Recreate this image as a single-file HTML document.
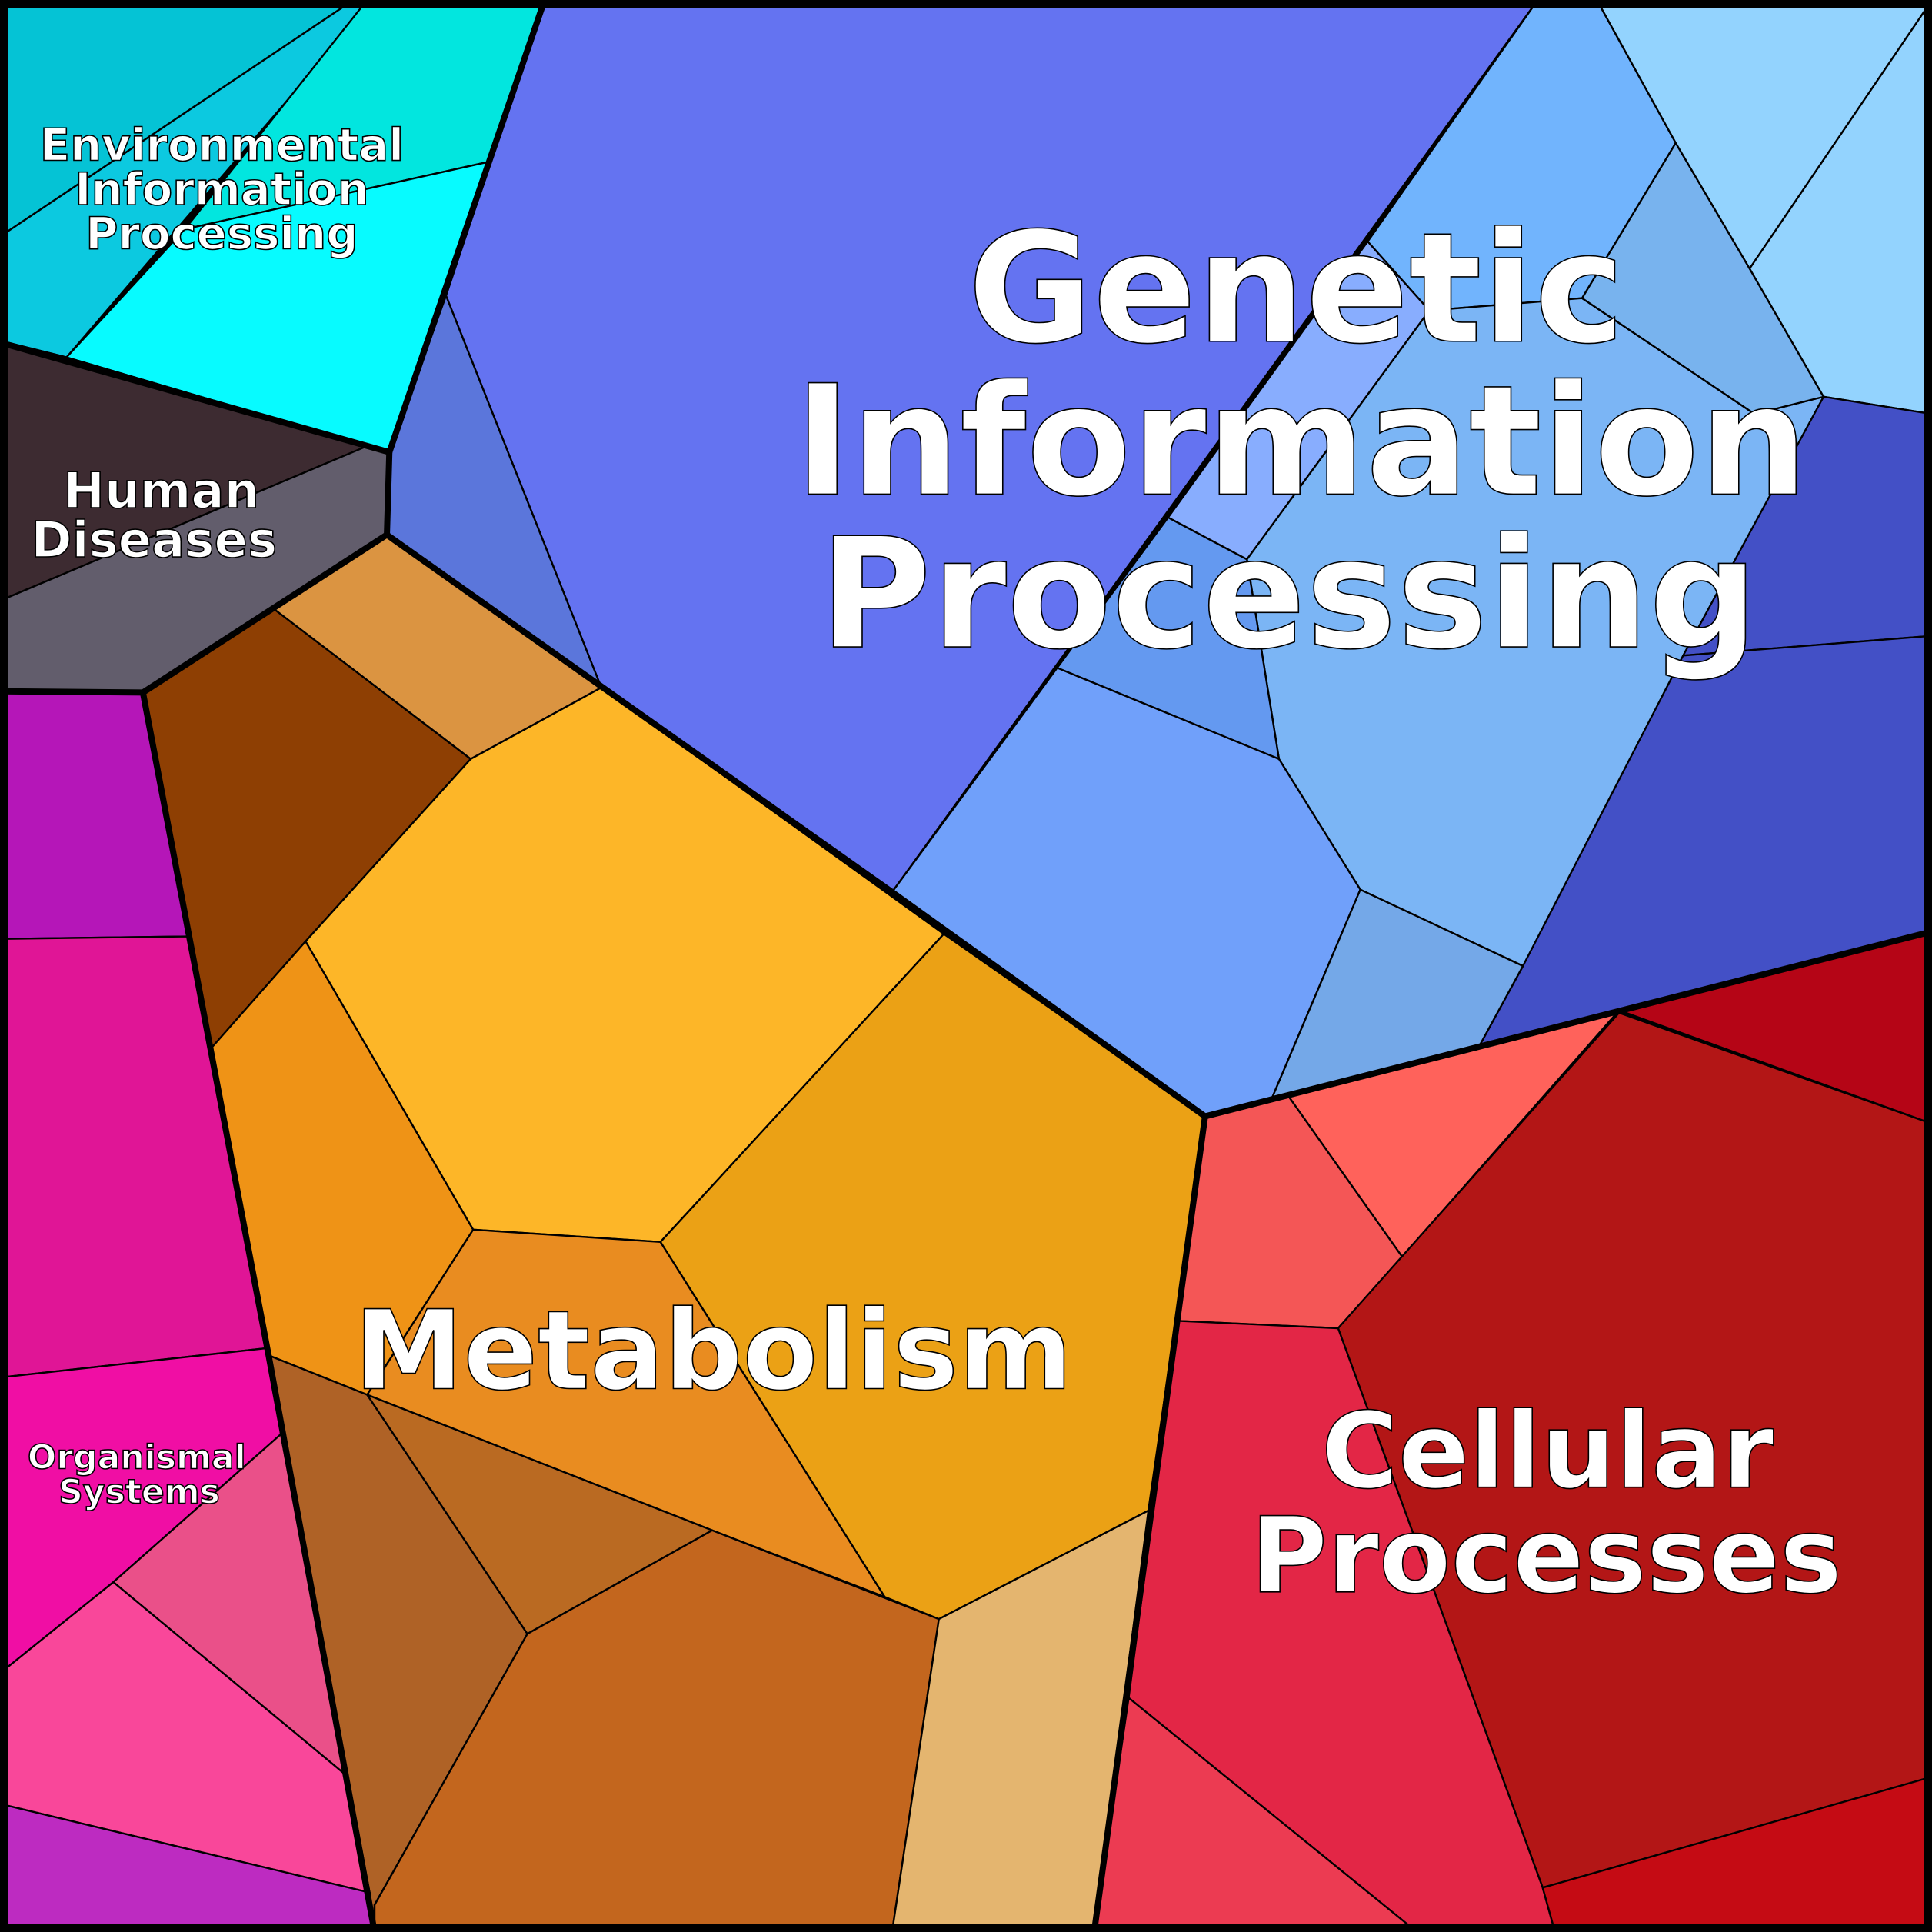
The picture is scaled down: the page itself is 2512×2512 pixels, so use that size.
<!DOCTYPE html>
<html><head><meta charset="utf-8"><style>
html,body{margin:0;padding:0;background:#000;}
svg{display:block;}
text{font-family:"DejaVu Sans","Liberation Sans",sans-serif;font-weight:bold;fill:#fff;stroke:#000;stroke-width:1;text-anchor:middle;}
</style></head><body>
<svg width="2512" height="2512" viewBox="0 0 1568 1568" xmlns="http://www.w3.org/2000/svg">
<g stroke="#000" stroke-width="1.5" stroke-linejoin="round">
<polygon fill="#05C3D5" points="0,0 278,6 6,188 0,188"/>
<polygon fill="#0CC9E0" points="278,6 298,6 54,290 6,278 6,188"/>
<polygon fill="#02E6DF" points="298,0 442,0 398,131 150,186"/>
<polygon fill="#07FBFF" points="150,186 398,131 316,367 54,290"/>
<polygon fill="#3D2B31" points="6,278 54,290 316,367 298,362 6,485"/>
<polygon fill="#625D6C" points="6,485 298,362 316,367 314,434 116,562 6,561"/>
<polygon fill="#6473F1" points="442,0 1248,0 724,724 488,558 362,240"/>
<polygon fill="#5B76DB" points="362,240 488,558 314,434 316,367"/>
<polygon fill="#71B4FD" points="1248,0 1296,0 1360,116 1284,242 1160,252 1110,196"/>
<polygon fill="#88ADFE" points="1110,196 1160,252 1012,454 948,420"/>
<polygon fill="#7BB5F5" points="1160,252 1284,242 1424,336 1480,322 1236,784 1104,722 1038,616 1012,454"/>
<polygon fill="#78B3EE" points="1360,116 1420,218 1480,322 1424,336 1284,242"/>
<polygon fill="#93D3FE" points="1296,0 1568,0 1420,218 1360,116"/>
<polygon fill="#93D3FE" points="1420,218 1568,0 1568,336 1480,322"/>
<polygon fill="#4350C6" points="1480,322 1568,336 1568,516 1366,532"/>
<polygon fill="#4350C6" points="1366,532 1568,516 1568,756 1200,850 1236,784"/>
<polygon fill="#6499F0" points="948,420 1012,454 1038,616 858,542"/>
<polygon fill="#70A0FA" points="858,542 1038,616 1104,722 1032,892 978,906 724,724"/>
<polygon fill="#74A8E8" points="1104,722 1236,784 1200,850 1032,892"/>
<polygon fill="#DB9441" points="314,434 488,558 382,616 222,494"/>
<polygon fill="#8E3F03" points="222,494 382,616 248,764 172,850 116,562"/>
<polygon fill="#FDB628" points="382,616 488,558 766,758 536,1008 384,998 248,764"/>
<polygon fill="#EF9316" points="248,764 384,998 298,1132 218,1100 172,850"/>
<polygon fill="#EBA115" points="766,758 978,906 932,1226 762,1314 718,1296 536,1008"/>
<polygon fill="#E98C20" points="384,998 536,1008 718,1296 578,1242 298,1132"/>
<polygon fill="#AF6226" points="218,1100 298,1132 428,1326 304,1546 304,1568 300,1536"/>
<polygon fill="#BA6A22" points="298,1132 578,1242 428,1326"/>
<polygon fill="#C3661E" points="578,1242 762,1314 724,1568 304,1568 304,1546 428,1326"/>
<polygon fill="#E4B56F" points="762,1314 932,1226 888,1568 724,1568"/>
<polygon fill="#B516B8" points="0,561 116,562 152,760 0,762"/>
<polygon fill="#E01596" points="0,762 152,760 218,1094 0,1118"/>
<polygon fill="#F00EA4" points="0,1118 218,1094 228,1164 92,1284 0,1358"/>
<polygon fill="#EA5089" points="228,1164 280,1440 92,1284"/>
<polygon fill="#F9479A" points="0,1358 92,1284 280,1440 300,1536 0,1464"/>
<polygon fill="#BD2BC1" points="0,1464 300,1536 304,1568 0,1568"/>
<polygon fill="#F45656" points="978,906 1046,890 1138,1020 1086,1078 956,1072"/>
<polygon fill="#FF625B" points="1046,890 1200,850 1314,820 1138,1020"/>
<polygon fill="#B31616" points="1086,1078 1314,822 1568,912 1568,1442 1252,1532"/>
<polygon fill="#B50516" points="1314,820 1568,756 1568,912"/>
<polygon fill="#E32646" points="956,1072 1086,1078 1252,1532 1262,1568 1150,1568 916,1378"/>
<polygon fill="#EC3B52" points="916,1378 1150,1568 888,1568"/>
<polygon fill="#C50B14" points="1252,1532 1568,1442 1568,1568 1262,1568"/>
</g>
<g fill="none" stroke="#000" stroke-width="5" stroke-linejoin="round">
<polyline points="0,278 316,367 442,0"/>
<polyline points="316,367 314,434 116,562 0,561"/>
<polyline points="314,434 724,724 978,906 1568,756"/>
<polyline points="116,562 218,1100 304,1568"/>
<polyline points="978,906 888,1568"/>
<rect x="3" y="3" width="1562" height="1562" stroke-width="7"/>
</g>
<g>
<text x="1052" y="277" font-size="124">Genetic</text>
<text x="1056" y="401" font-size="124">Information</text>
<text x="1046" y="525" font-size="124">Processing</text>
<text x="579" y="1127" font-size="89">Metabolism</text>
<text x="1256" y="1207" font-size="85">Cellular</text>
<text x="1255" y="1292" font-size="85">Processes</text>
<text x="180" y="130" font-size="36">Environmental</text>
<text x="180" y="166" font-size="36">Information</text>
<text x="180" y="202" font-size="36">Processing</text>
<text x="131" y="412" font-size="40">Human</text>
<text x="125" y="452" font-size="40">Diseases</text>
<text x="111" y="1192" font-size="27.5">Organismal</text>
<text x="113" y="1220" font-size="27.5">Systems</text>
</g>
</svg>
</body></html>
